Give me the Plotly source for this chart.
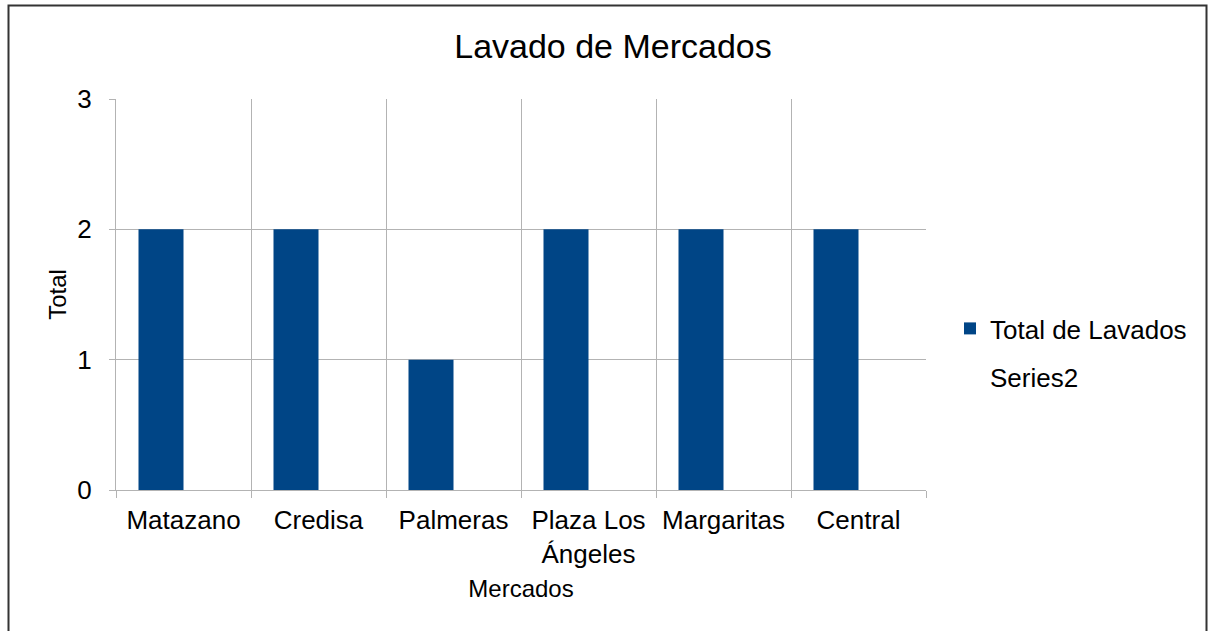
import plotly.graph_objects as go

categories = ["Matazano", "Credisa", "Palmeras", "Plaza Los<br>Ángeles", "Margaritas", "Central"]
total_lavados = [2, 2, 1, 2, 2, 2]
series2 = [None, None, None, None, None, None]

W, H = 1209, 631
L, R, T, B = 116, 926, 99, 490
pw, ph = R - L, B - T

fig = go.Figure()
fig.add_trace(go.Bar(x=categories, y=total_lavados, name="Total de Lavados", legendgroup="a",
                     marker=dict(color="#004586", line=dict(width=0))))
fig.add_trace(go.Bar(x=categories, y=series2, name="Series2", legendgroup="b",
                     marker=dict(color="rgba(0,0,0,0)", line=dict(width=0))))

font = "Liberation Sans, Arial, sans-serif"
grid = "#b3b3b3"
fig.update_layout(
    width=W, height=H,
    margin=dict(l=L, r=W - R, t=T, b=H - B, autoexpand=False),
    paper_bgcolor="white", plot_bgcolor="white",
    barmode="group", bargap=1/3, bargroupgap=0,
    font=dict(family=font, color="black", size=26),
    title=dict(text="Lavado de Mercados", x=613 / W, xref="container", xanchor="center",
               y=1 - 46 / H, yref="container", yanchor="middle",
               font=dict(size=34, family=font)),
    xaxis=dict(type="category", tickson="boundaries", ticks="outside", ticklen=7,
               tickcolor=grid, showgrid=True, gridcolor=grid, gridwidth=1,
               showline=True, linecolor=grid, linewidth=1,
               range=[-0.5, 5.5], tickfont=dict(size=26), ticklabelstandoff=7,
               title=dict(text="Mercados", font=dict(size=24), standoff=12)),
    yaxis=dict(range=[0, 3], tickvals=[0, 1, 2, 3], ticks="outside", ticklen=6,
               tickcolor=grid, showgrid=True, gridcolor=grid, gridwidth=1,
               showline=True, linecolor=grid, linewidth=1, zeroline=False,
               tickfont=dict(size=26), ticklabelstandoff=12,
               title=dict(text="Total", font=dict(size=24), standoff=3)),
    legend=dict(x=(950 - L) / pw, xanchor="left", y=(B - 353) / ph, yanchor="middle",
                font=dict(size=26), tracegroupgap=12, itemsizing="constant",
                bgcolor="rgba(0,0,0,0)"),
    showlegend=True,
)

fig.add_shape(type="rect", xref="paper", yref="paper",
              x0=(8.5 - L) / pw, x1=(1206.5 - L) / pw,
              y0=(B - 660) / ph, y1=(B - 5.5) / ph,
              line=dict(color="#333", width=2), fillcolor="rgba(0,0,0,0)", layer="below")

fig.write_html("out.html", config={"displayModeBar": False},
               post_script="document.body.style.margin='0';")
